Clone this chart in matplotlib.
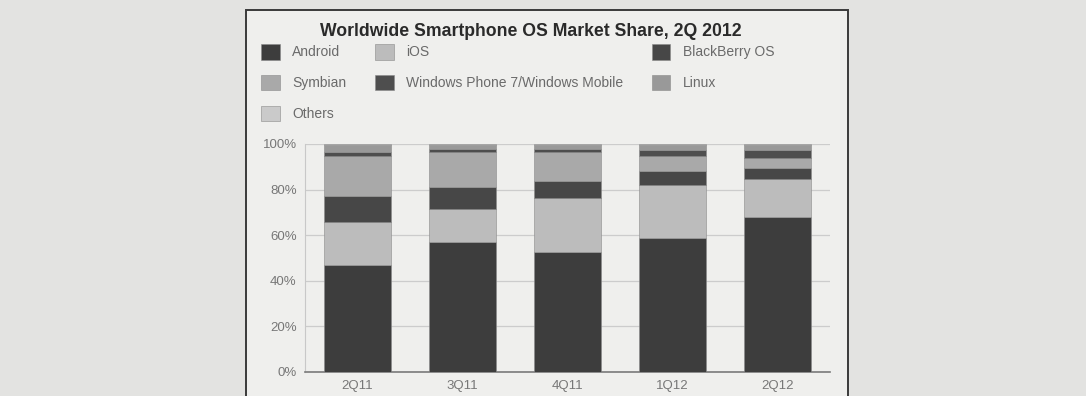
import numpy as np
import matplotlib.pyplot as plt
from matplotlib.patches import Rectangle

plt.rcParams['font.family'] = ['Liberation Sans', 'DejaVu Sans']

# quarters and market share (%) per OS
quarters = ['2Q11', '3Q11', '4Q11', '1Q12', '2Q12']
android = [46.9, 57.2, 52.8, 58.6, 67.8]
ios = [19.0, 14.3, 23.4, 23.4, 16.8]
blackberry = [11.4, 9.5, 7.7, 6.3, 4.7]
symbian = [17.4, 15.6, 12.7, 6.6, 4.7]
windows = [1.9, 1.2, 1.1, 2.5, 3.4]
linux = [3.0, 1.8, 2.0, 2.3, 2.3]
others = [0.4, 0.4, 0.3, 0.3, 0.3]

series = [
    ('Android', android, '#3d3d3d'),
    ('iOS', ios, '#bcbcbc'),
    ('BlackBerry OS', blackberry, '#474747'),
    ('Symbian', symbian, '#a9a9a9'),
    ('Windows Phone 7/Windows Mobile', windows, '#4e4e4e'),
    ('Linux', linux, '#999999'),
    ('Others', others, '#cacaca'),
]

fig = plt.figure(figsize=(10.86, 3.96), dpi=100, facecolor='#e3e3e1')

# chart frame (scanned page box)
frame = Rectangle((246 / 1086, -0.05), (848 - 246) / 1086, 1.05 - 10 / 396,
                  transform=fig.transFigure, facecolor='#efefed',
                  edgecolor='#3a3a3a', linewidth=1.4, zorder=-5)
fig.patches.append(frame)

ax = fig.add_axes([305 / 1086, 1 - 372 / 396, (830 - 305) / 1086, (372 - 144) / 396])
ax.set_zorder(2)
ax.set_facecolor('#efefed')

x = np.arange(len(quarters))
bottom = np.zeros(len(quarters))
bars = {}
for name, vals, color in series:
    bars[name] = ax.bar(x, vals, width=0.64, bottom=bottom, color=color,
                        edgecolor='#8a8a8a', linewidth=0.4, zorder=3)
    bottom += np.array(vals)

ax.set_xlim(-0.5, len(quarters) - 0.5)
ax.set_ylim(0, 100)
ax.set_yticks(range(0, 101, 20))
ax.set_yticklabels([f'{v}%' for v in range(0, 101, 20)])
ax.set_xticks(x)
ax.set_xticklabels(quarters)
ax.tick_params(length=0, colors='#777777', labelsize=9.5)
ax.tick_params(axis='x', pad=6)
ax.tick_params(axis='y', pad=6)
ax.yaxis.grid(True, color='#cccccc', linewidth=0.9, zorder=0)
for side in ['top', 'right']:
    ax.spines[side].set_visible(False)
ax.spines['left'].set_color('#c8c8c8')
ax.spines['bottom'].set_color('#7a7a7a')
ax.spines['bottom'].set_linewidth(1.2)

fig.text(531 / 1086, 1 - 32 / 396, 'Worldwide Smartphone OS Market Share, 2Q 2012',
         ha='center', va='center', fontsize=12.7, fontweight='bold', color='#2a2a2a')

# legend laid out column-wise like the original (3 columns)
order = ['Android', 'Symbian', 'Others', 'iOS', 'Windows Phone 7/Windows Mobile',
         'BlackBerry OS', 'Linux']
handles = [bars[n] for n in order]
leg = fig.legend(handles, order, ncol=3, loc='upper left',
                 bbox_to_anchor=(261 / 1086, 1 - 44 / 396), frameon=False,
                 fontsize=10, handlelength=1.35, handleheight=1.35,
                 handletextpad=0.9, columnspacing=2.05, labelspacing=1.1,
                 borderpad=0, borderaxespad=0)
for t in leg.get_texts():
    t.set_color('#6a6a6a')

plt.savefig('out.png', dpi=100, facecolor=fig.get_facecolor())
